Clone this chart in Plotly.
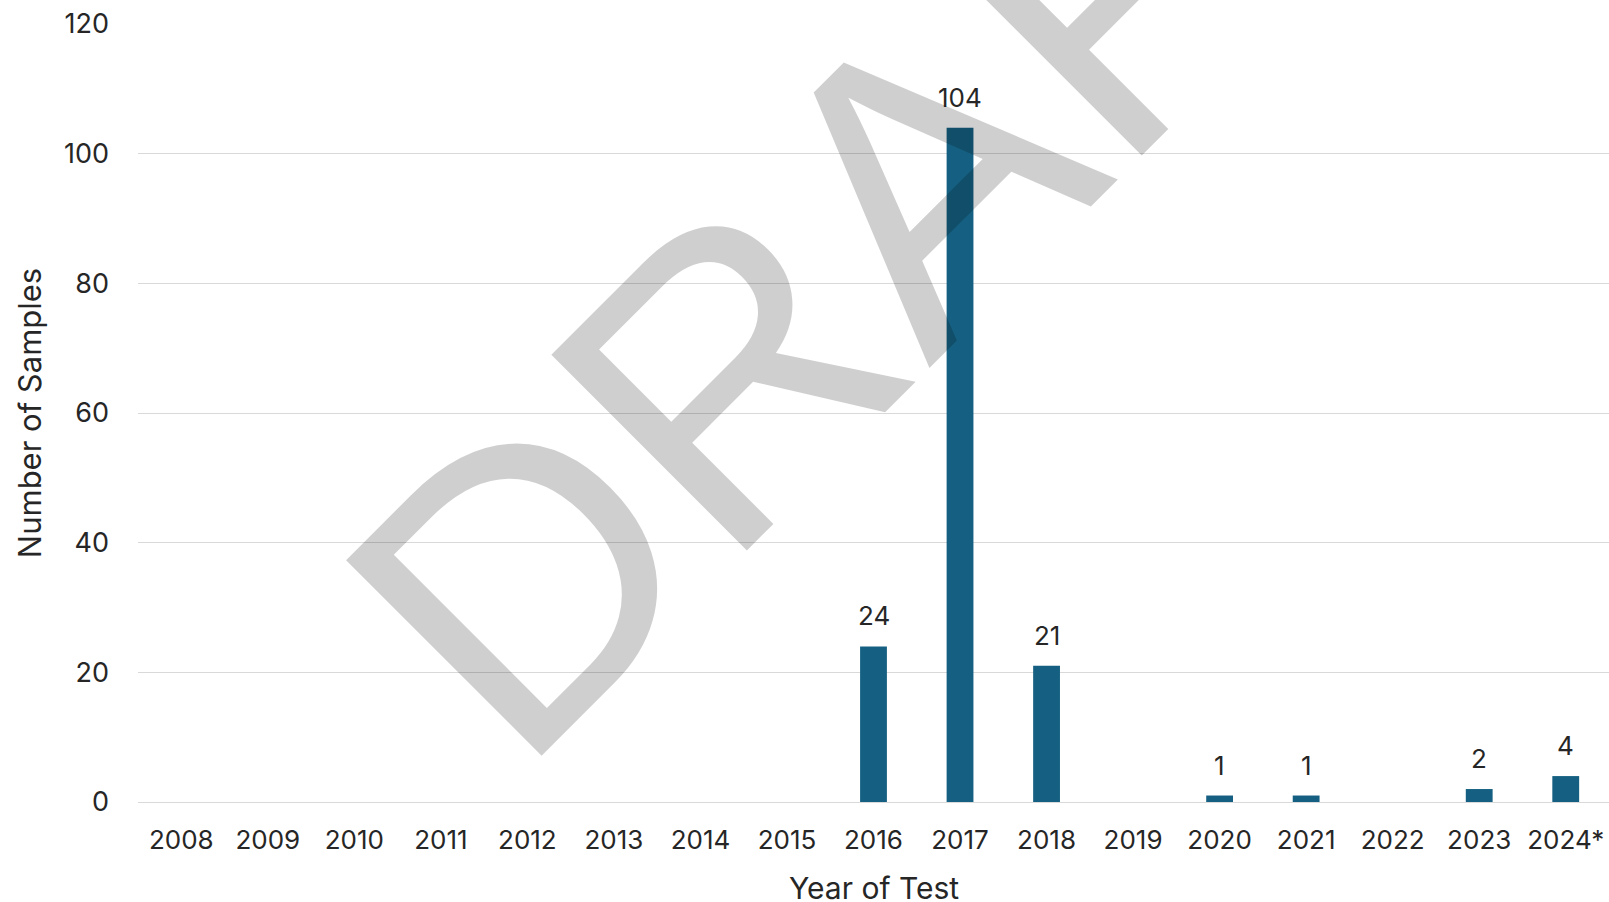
import plotly.graph_objects as go

# Samples tested per year
years = ["2008", "2009", "2010", "2011", "2012", "2013", "2014", "2015", "2016",
         "2017", "2018", "2019", "2020", "2021", "2022", "2023", "2024*"]
samples = [0, 0, 0, 0, 0, 0, 0, 0, 24, 104, 21, 0, 1, 1, 0, 2, 4]

y_ticks = [0, 20, 40, 60, 80, 100, 120]

BAR_COLOR = "#156082"
TEXT_COLOR = "#262626"
GRID_COLOR = "#D9D9D9"
FONT = "Inter, Liberation Sans, Arial, sans-serif"

fig = go.Figure()
fig.add_trace(go.Bar(
    x=years,
    y=samples,
    marker=dict(color=BAR_COLOR, line=dict(width=0)),
    width=0.31,
    hoverinfo="x+y",
))

# value labels above the non-empty bars (category index used for x so that
# numeric-looking year strings are not read as axis values)
annotations = []
for i, n in enumerate(samples):
    if n > 0:
        annotations.append(dict(
            x=i, y=n, xref="x", yref="y", text=str(n), showarrow=False,
            yanchor="bottom", yshift=13,
            font=dict(family=FONT, size=26, color=TEXT_COLOR),
        ))

# x-axis title placed in the bottom margin
annotations.append(dict(
    x=0.5, y=-0.111, xref="paper", yref="paper", text="Year of Test",
    showarrow=False, xanchor="center", yanchor="middle",
    font=dict(family=FONT, size=30, color=TEXT_COLOR),
))

# diagonal watermark over the plot
annotations.append(dict(
    x=0.5135, y=0.766, xref="paper", yref="paper", text="DRAFT",
    showarrow=False, textangle=-45, xanchor="center", yanchor="middle",
    font=dict(family="Liberation Sans, Arial, sans-serif", size=402,
              color="rgba(0,0,0,0.19)"),
))

fig.update_layout(
    width=1609, height=902,
    margin=dict(l=138, r=0, t=24, b=100),
    paper_bgcolor="white", plot_bgcolor="white",
    showlegend=False,
    bargap=0.69,
    font=dict(family=FONT, size=26, color=TEXT_COLOR),
    annotations=annotations,
    xaxis=dict(
        type="category",
        range=[-0.5, 16.5],
        showgrid=False, showline=False, zeroline=False,
        ticks="", ticklabelstandoff=20,
        tickfont=dict(family=FONT, size=26, color=TEXT_COLOR),
        automargin=False,
    ),
    yaxis=dict(
        range=[0, 120],
        tickvals=y_ticks,
        showgrid=True, gridcolor=GRID_COLOR, gridwidth=1.3,
        zeroline=True, zerolinecolor=GRID_COLOR, zerolinewidth=1.3,
        showline=False, ticks="", ticklabelstandoff=28,
        tickfont=dict(family=FONT, size=27, color=TEXT_COLOR),
        title=dict(text="Number of Samples", standoff=13,
                   font=dict(family=FONT, size=31, color=TEXT_COLOR)),
        automargin=False,
    ),
)

fig.write_html("out.html")
